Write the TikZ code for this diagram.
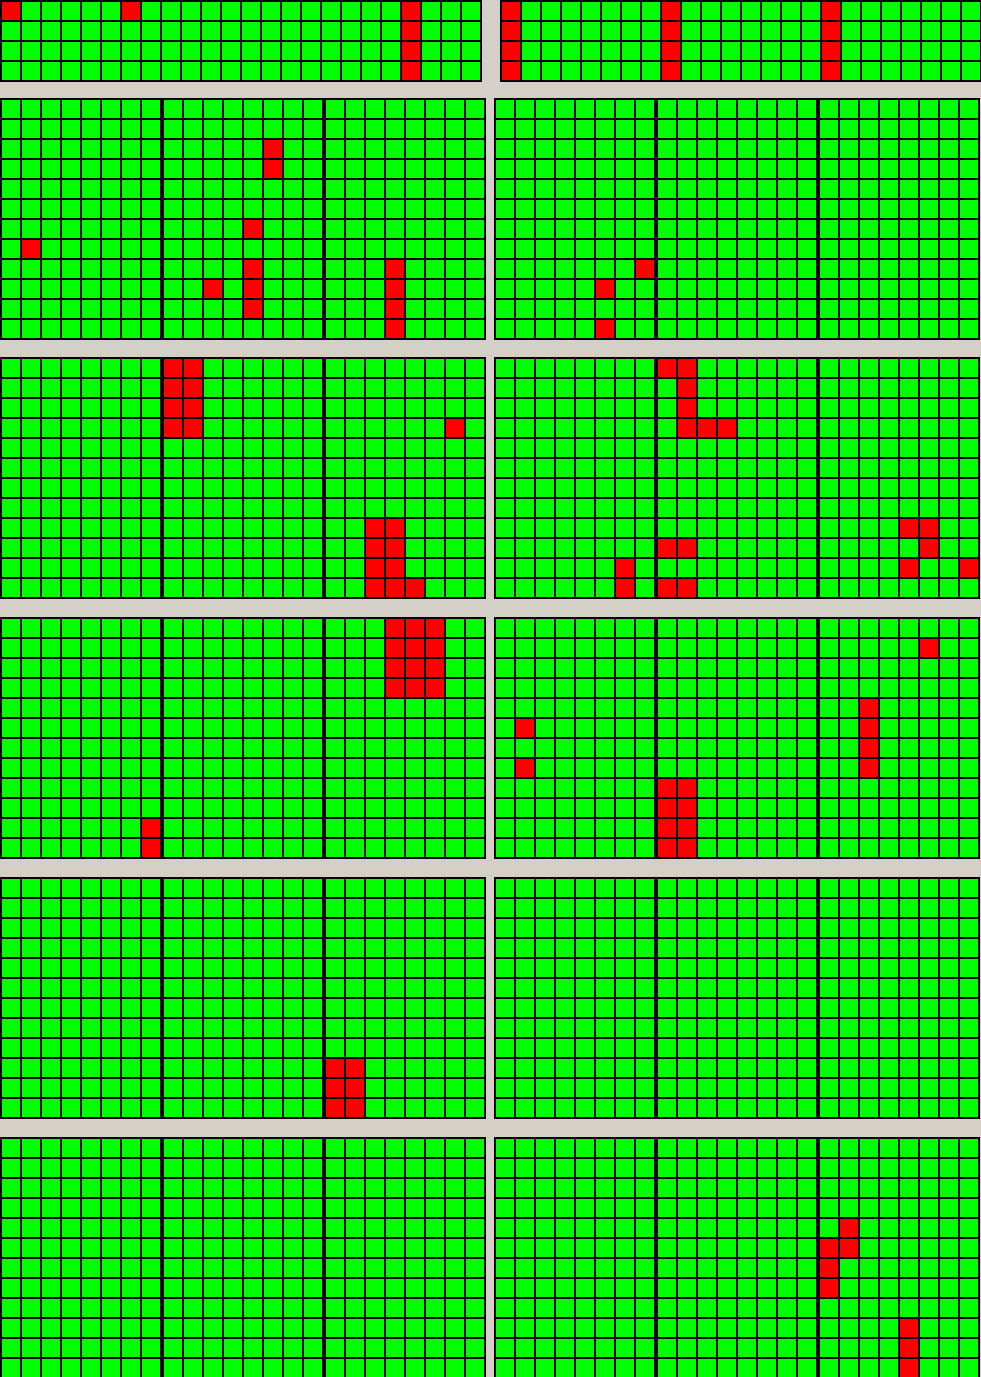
\documentclass[tikz,border=0pt]{standalone}
\definecolor{bggray}{RGB}{212,208,200}
\definecolor{cellgreen}{RGB}{0,255,0}
\definecolor{cellred}{RGB}{255,0,0}
\tikzset{
  greenfill/.style={fill=cellgreen},
  redfill/.style={fill=cellred},
  gridline/.style={draw=black, line width=2pt}
}
\newcommand\greenblock[4]{\fill[greenfill] ({#1+1},{#2+1}) rectangle ++({20*#3},{20*#4});}
\newcommand\redcell[4]{\fill[redfill] ({#1+1+20*#3},{#2+1+20*#4}) rectangle ++(20,20);}
\newcommand\gblines[4]{%
  \foreach \i in {0,...,#3}{\draw[gridline] ({#1+1+20*\i},{#2}) -- ++(0,{20*#4+2});}%
  \foreach \j in {0,...,#4}{\draw[gridline] ({#1},{#2+1+20*\j}) -- ++({20*#3+2},0);}%
}
\begin{document}
\begin{tikzpicture}[x=1pt,y=-1pt]
\useasboundingbox (0,0) rectangle (981,1377);
\fill[bggray] (0,0) rectangle (981,1377);
% top strip panels
\greenblock{0}{0}{24}{4}
\greenblock{500}{0}{24}{4}
\redcell{0}{0}{0}{0}
\redcell{0}{0}{6}{0}
\foreach \j in {0,...,3}{\redcell{0}{0}{20}{\j}}
\foreach \c in {0,8,16}{\foreach \j in {0,...,3}{\redcell{500}{0}{\c}{\j}}}
% main panels: green
\foreach \yy in {98,357,617,877,1137}{
  \foreach \xx in {0,162,324,494,656,818}{\greenblock{\xx}{\yy}{8}{12}}
}
% panel 1 (y0=98)
\redcell{162}{98}{5}{2}\redcell{162}{98}{5}{3}
\redcell{162}{98}{4}{6}\redcell{162}{98}{4}{8}\redcell{162}{98}{4}{9}\redcell{162}{98}{4}{10}
\redcell{0}{98}{1}{7}
\redcell{162}{98}{2}{9}
\foreach \j in {8,...,11}{\redcell{324}{98}{3}{\j}}
\redcell{494}{98}{7}{8}\redcell{494}{98}{5}{9}\redcell{494}{98}{5}{11}
% panel 2 (y0=357)
\foreach \c in {0,1}{\foreach \j in {0,...,3}{\redcell{162}{357}{\c}{\j}}}
\redcell{324}{357}{6}{3}
\foreach \c in {2,3}{\foreach \j in {8,...,11}{\redcell{324}{357}{\c}{\j}}}
\redcell{324}{357}{4}{11}
\redcell{656}{357}{0}{0}\redcell{656}{357}{1}{0}\redcell{656}{357}{1}{1}\redcell{656}{357}{1}{2}
\redcell{656}{357}{1}{3}\redcell{656}{357}{2}{3}\redcell{656}{357}{3}{3}
\redcell{656}{357}{0}{9}\redcell{656}{357}{1}{9}\redcell{656}{357}{0}{11}\redcell{656}{357}{1}{11}
\redcell{494}{357}{6}{10}\redcell{494}{357}{6}{11}
\redcell{818}{357}{4}{8}\redcell{818}{357}{5}{8}\redcell{818}{357}{5}{9}
\redcell{818}{357}{4}{10}\redcell{818}{357}{7}{10}
% panel 3 (y0=617)
\foreach \c in {3,4,5}{\foreach \j in {0,...,3}{\redcell{324}{617}{\c}{\j}}}
\redcell{0}{617}{7}{10}\redcell{0}{617}{7}{11}
\redcell{818}{617}{5}{1}
\foreach \j in {4,...,7}{\redcell{818}{617}{2}{\j}}
\redcell{494}{617}{1}{5}\redcell{494}{617}{1}{7}
\foreach \c in {0,1}{\foreach \j in {8,...,11}{\redcell{656}{617}{\c}{\j}}}
% panel 4 (y0=877)
\foreach \c in {0,1}{\foreach \j in {9,...,11}{\redcell{324}{877}{\c}{\j}}}
% panel 5 (y0=1137)
\redcell{818}{1137}{1}{4}\redcell{818}{1137}{1}{5}
\redcell{818}{1137}{0}{5}\redcell{818}{1137}{0}{6}\redcell{818}{1137}{0}{7}
\foreach \j in {9,...,11}{\redcell{818}{1137}{4}{\j}}
% grid lines
\gblines{0}{0}{24}{4}
\gblines{500}{0}{24}{4}
\foreach \yy in {98,357,617,877,1137}{
  \foreach \xx in {0,162,324,494,656,818}{\gblines{\xx}{\yy}{8}{12}}
}
\end{tikzpicture}
\end{document}
